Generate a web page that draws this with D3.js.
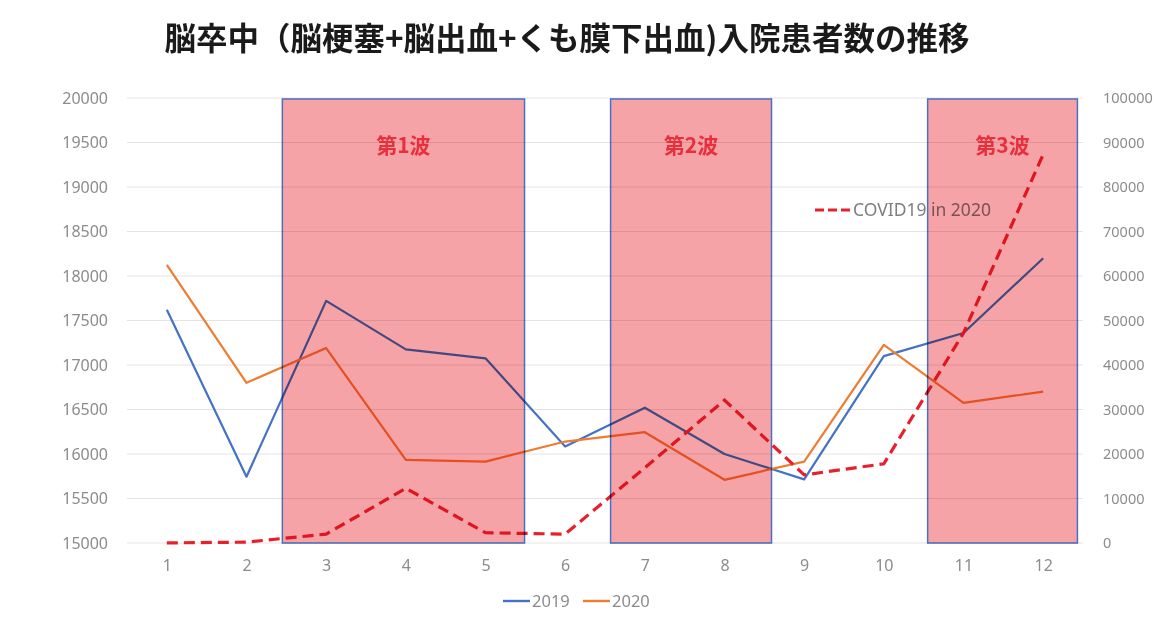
<!DOCTYPE html>
<html>
<head>
<meta charset="utf-8">
<script src="https://cdn.jsdelivr.net/npm/d3@7"></script>
<style>
  html, body { margin: 0; padding: 0; background: #ffffff; }
  svg { display: block; }
</style>
</head>
<body>
<svg id="chart" width="1171" height="634"></svg>
<script>
// Monthly stroke admissions (cerebral infarction + hemorrhage + SAH)
const months = [1, 2, 3, 4, 5, 6, 7, 8, 9, 10, 11, 12];
const admissions2019 = [17620, 15745, 17720, 17175, 17075, 16085, 16520, 16000, 15715, 17100, 17360, 18200];
const admissions2020 = [18125, 16800, 17190, 15935, 15915, 16140, 16245, 15710, 15915, 17225, 16575, 16700];
// New COVID-19 cases per month in 2020 (right axis)
const covid2020 = [20, 200, 2000, 12300, 2300, 2000, 16900, 32100, 15300, 17800, 47200, 87300];

// Infection waves, spanning month positions on the x scale
const waveLabels = ["第1波", "第2波", "第3波"];
const waveStart = [2.45, 6.57, 10.55];
const waveEnd = [5.49, 8.59, 12.43];

const leftTicks = [15000, 15500, 16000, 16500, 17000, 17500, 18000, 18500, 19000, 19500, 20000];
const rightTicks = [0, 10000, 20000, 30000, 40000, 50000, 60000, 70000, 80000, 90000, 100000];

const title = "脳卒中（脳梗塞+脳出血+くも膜下出血)入院患者数の推移";
const seriesNames = ["2019", "2020"];
const covidName = "COVID19 in 2020";

const colors = { y2019: "#4472c4", y2020: "#ed7d31", covid: "#e8202e", wave: "#e8303c", band: "#f6a3a8", bandEdge: "#4a70c0" };

const svg = d3.select("#chart");
const plot = { left: 127, right: 1083, top: 98, bottom: 543 };

const x = d3.scaleLinear().domain([0.5, 12.5]).range([plot.left, plot.right]);
const yL = d3.scaleLinear().domain([15000, 20000]).range([plot.bottom, plot.top]);
const yR = d3.scaleLinear().domain([0, 100000]).range([plot.bottom, plot.top]);

const labelFont = "'Noto Sans', 'DejaVu Sans', sans-serif";
const cjkFont = "'Noto Sans CJK JP', 'Noto Sans CJK SC', sans-serif";

// Title
svg.append("text")
  .attr("x", 567).attr("y", 50)
  .attr("text-anchor", "middle")
  .attr("font-family", cjkFont)
  .attr("font-weight", 700)
  .attr("font-size", 31.5)
  .attr("fill", "#1a1a1a")
  .text(title);

// Horizontal gridlines
svg.append("g")
  .selectAll("line")
  .data(leftTicks)
  .join("line")
  .attr("x1", plot.left).attr("x2", plot.right)
  .attr("y1", d => yL(d)).attr("y2", d => yL(d))
  .attr("stroke", "#e4e4e4").attr("stroke-width", 1);

// Left axis
const axisL = svg.append("g")
  .attr("transform", `translate(${plot.left - 19},0)`)
  .call(d3.axisLeft(yL).tickValues(leftTicks).tickSize(0).tickPadding(0).tickFormat(d3.format("d")));
axisL.select(".domain").remove();
axisL.selectAll("text")
  .attr("font-family", labelFont).attr("font-size", 16).attr("fill", "#8c8c8c");

// Right axis
const axisR = svg.append("g")
  .attr("transform", `translate(${plot.right + 20},0)`)
  .call(d3.axisRight(yR).tickValues(rightTicks).tickSize(0).tickPadding(0).tickFormat(d3.format("d")));
axisR.select(".domain").remove();
axisR.selectAll("text")
  .attr("font-family", labelFont).attr("font-size", 14.5).attr("fill", "#8c8c8c");

// Bottom axis
const axisB = svg.append("g")
  .attr("transform", `translate(0,${plot.bottom + 17})`)
  .call(d3.axisBottom(x).tickValues(months).tickSize(0).tickPadding(0).tickFormat(d3.format("d")));
axisB.select(".domain").remove();
axisB.selectAll("text")
  .attr("font-family", labelFont).attr("font-size", 16).attr("fill", "#8c8c8c");

// Lines
const lineL = d3.line().x((d, i) => x(months[i])).y(d => yL(d));
const lineR = d3.line().x((d, i) => x(months[i])).y(d => yR(d));

svg.append("path").datum(admissions2019)
  .attr("d", lineL).attr("fill", "none")
  .attr("stroke", colors.y2019).attr("stroke-width", 2.2).attr("stroke-linejoin", "round");

svg.append("path").datum(admissions2020)
  .attr("d", lineL).attr("fill", "none")
  .attr("stroke", colors.y2020).attr("stroke-width", 2.2).attr("stroke-linejoin", "round");

svg.append("path").datum(covid2020)
  .attr("d", lineR).attr("fill", "none")
  .attr("stroke", colors.covid).attr("stroke-width", 3.2)
  .attr("stroke-dasharray", "11,6");

// COVID legend
const covLeg = svg.append("g").attr("transform", "translate(815,210)");
covLeg.append("line").attr("x1", 0).attr("x2", 35).attr("y1", 0).attr("y2", 0)
  .attr("stroke", colors.covid).attr("stroke-width", 3.2).attr("stroke-dasharray", "9,4");
covLeg.append("text").attr("x", 38).attr("y", 6)
  .attr("font-family", labelFont).attr("font-size", 17.5).attr("fill", "#7f7f7f")
  .text(covidName);

// Wave bands, blended over the lines
const waves = waveLabels.map((label, i) => ({ label, from: waveStart[i], to: waveEnd[i] }));
svg.append("g")
  .style("mix-blend-mode", "multiply")
  .selectAll("rect")
  .data(waves)
  .join("rect")
  .attr("x", d => x(d.from))
  .attr("width", d => x(d.to) - x(d.from))
  .attr("y", yL(20000) + 1)
  .attr("height", yL(15000) - yL(20000) - 1)
  .attr("fill", colors.band)
  .attr("stroke", colors.bandEdge).attr("stroke-width", 1.5);

svg.append("g")
  .selectAll("text")
  .data(waves)
  .join("text")
  .attr("x", d => (x(d.from) + x(d.to)) / 2)
  .attr("y", 153)
  .attr("text-anchor", "middle")
  .attr("font-family", cjkFont)
  .attr("font-weight", 700)
  .attr("font-size", 21)
  .attr("fill", colors.wave)
  .text(d => d.label);

// Series legend
const legend = svg.append("g").attr("transform", "translate(503,601)");
const legItems = [
  { name: seriesNames[0], color: colors.y2019, dx: 0 },
  { name: seriesNames[1], color: colors.y2020, dx: 80 }
];
legItems.forEach(it => {
  const g = legend.append("g").attr("transform", `translate(${it.dx},0)`);
  g.append("line").attr("x1", 0).attr("x2", 27).attr("y1", 0).attr("y2", 0)
    .attr("stroke", it.color).attr("stroke-width", 2.4);
  g.append("text").attr("x", 29).attr("y", 6)
    .attr("font-family", labelFont).attr("font-size", 16.5).attr("fill", "#8c8c8c")
    .text(it.name);
});
</script>
</body>
</html>
